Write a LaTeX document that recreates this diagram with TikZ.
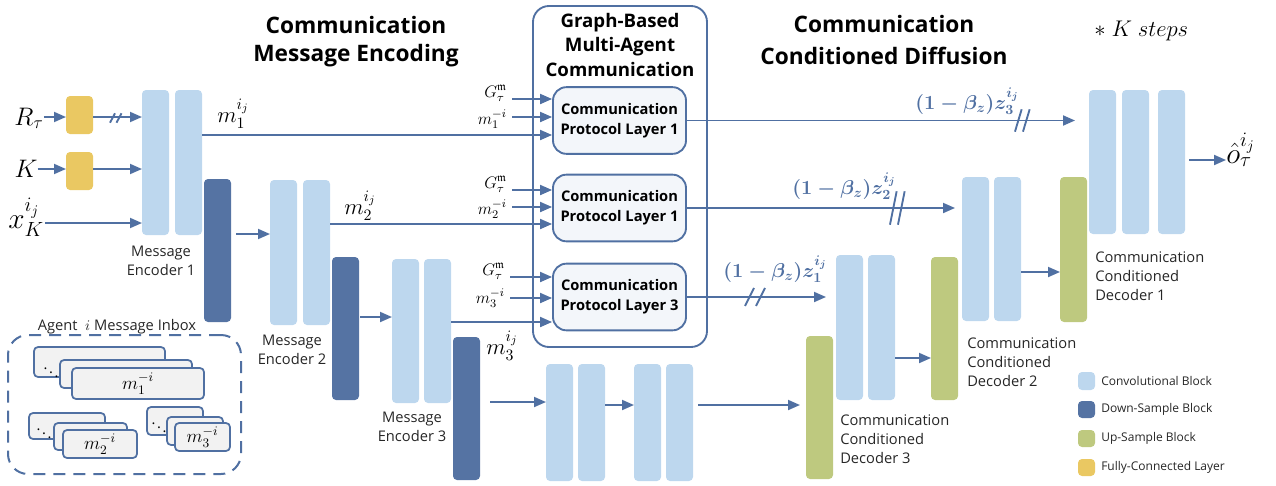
\RequirePackage{fix-cm}
\documentclass[tikz,border=0pt]{standalone}
\usepackage{amsmath,amssymb}
\usepackage[no-math]{fontspec}
\setmainfont{Open Sans}
\usetikzlibrary{arrows.meta,fit}
\definecolor{convblue}{HTML}{BDD7EE}
\definecolor{downblue}{HTML}{5573A3}
\definecolor{upgreen}{HTML}{BEC97F}
\definecolor{fcyellow}{HTML}{EAC862}
\definecolor{lc}{HTML}{5070A2}
\definecolor{cplfill}{HTML}{F3F6FA}
\definecolor{cardgray}{HTML}{F2F2F2}
\definecolor{txt}{HTML}{262626}
\newcommand\blkn[6]{\node[#1, fit={(#3,#4) (#5,#6)}] (#2) {};}
\newcommand\dslash[5]{%
  \draw[slash] ({#1-#4/2},{#2+#3}) -- ({#1+#4/2},{#2-#3});
  \draw[slash] ({#1-#4/2+#5},{#2+#3}) -- ({#1+#4/2+#5},{#2-#3});}
\begin{document}
\begin{tikzpicture}[x=0.75pt,y=-0.75pt,
  blk/.style={inner sep=0pt, outer sep=0pt, rounded corners=3pt},
  conv/.style={blk, fill=convblue},
  down/.style={blk, fill=downblue},
  up/.style={blk, fill=upgreen},
  fc/.style={blk, fill=fcyellow},
  arr/.style={draw=lc, line width=1.4pt, -{Triangle[length=9pt,width=7.5pt]}},
  slash/.style={draw=lc, line width=1.4pt},
  lab/.style={font=\fontsize{11}{14}\selectfont, text=txt, align=center, inner sep=0pt},
  labl/.style={font=\fontsize{11}{14.3}\selectfont, text=txt, align=left, inner sep=0pt, anchor=west},
  title/.style={font=\bfseries\fontsize{17}{21}\selectfont, align=center, inner sep=0pt},
  cpl/.style={draw=lc, line width=1.4pt, fill=cplfill, rounded corners=10pt, inner sep=0pt,
     minimum width=99.75pt, minimum height=50pt, align=center, font=\bfseries\fontsize{11}{15}\selectfont},
  mth/.style={inner sep=0pt, anchor=base west},
  gl/.style={inner sep=0pt, anchor=base east, font=\fontsize{12.5}{14}\selectfont},
  zlab/.style={inner sep=0pt, anchor=base west, text=lc, font=\fontsize{15}{17}\selectfont\mathversion{bold}},
  card/.style={draw=lc, line width=1.3pt, fill=cardgray, rounded corners=3pt, inner sep=0pt},
  leg/.style={font=\fontsize{9}{11}\selectfont, text=txt, anchor=west, inner sep=0pt}
]
\useasboundingbox (0,0) rectangle (1276,485);

% ---- titles
\node[title] (t1) at (356,42) {Communication\\Message Encoding};
\node[title, font=\bfseries\fontsize{17}{24.5}\selectfont] (t2) at (884,40) {Communication\\Conditioned Diffusion};
\node[inner sep=0pt, anchor=base west, font=\fontsize{17}{19}\selectfont] (ksteps) at (1094,37) {$\ast\ K\ steps$};

% ---- graph box
\node[draw=lc, line width=1.4pt, rounded corners=12pt, inner sep=0pt, fit={(533,6) (707,347)}] (gbox) {};
\node[font=\bfseries\fontsize{14}{18}\selectfont, align=center, inner sep=0pt] (gtitle) at (620,45) {Graph-Based\\Multi-Agent\\Communication};
\node[cpl] (cpl1) at (619.5,120.5) {Communication\\Protocol Layer 1};
\node[cpl] (cpl2) at (619.5,208) {Communication\\Protocol Layer 1};
\node[cpl] (cpl3) at (619.5,297) {Communication\\Protocol Layer 3};

% ---- blocks
\blkn{fc}{fc1}{66}{96}{93}{134}
\blkn{fc}{fc2}{66}{152}{93}{190}
\blkn{conv}{e1a}{142}{90}{169}{235}
\blkn{conv}{e1b}{175}{90}{202}{235}
\blkn{down}{e1d}{204}{179}{231}{322}
\blkn{conv}{e2a}{270}{180}{297}{325}
\blkn{conv}{e2b}{303}{180}{330}{325}
\blkn{down}{e2d}{332}{257}{359}{400}
\blkn{conv}{e3a}{392}{259}{419}{403}
\blkn{conv}{e3b}{424}{259}{451}{403}
\blkn{down}{e3d}{453}{337}{480}{480}
\blkn{conv}{ma}{546}{364}{573}{481}
\blkn{conv}{mb}{578}{364}{605}{481}
\blkn{conv}{mc}{634}{364}{661}{481}
\blkn{conv}{md}{666}{364}{693}{481}
\blkn{up}{d3u}{806}{336}{833}{479}
\blkn{conv}{d3a}{836}{255}{863}{400}
\blkn{conv}{d3b}{868}{255}{895}{400}
\blkn{up}{d2u}{931}{257}{958}{400}
\blkn{conv}{d2a}{962}{177}{989}{321}
\blkn{conv}{d2b}{994}{177}{1021}{321}
\blkn{up}{d1u}{1060}{177}{1087}{322}
\blkn{conv}{d1a}{1089}{90}{1116}{234}
\blkn{conv}{d1b}{1122}{90}{1149}{234}
\blkn{conv}{d1c}{1158}{90}{1185}{234}

% ---- block labels
\node[lab] (le1) at (161,261) {Message\\Encoder 1};
\node[lab] (le2) at (292,349.5) {Message\\Encoder 2};
\node[lab] (le3) at (412,427) {Message\\Encoder 3};
\node[labl] (ld3) at (840,439) {Communication\\Conditioned\\Decoder 3};
\node[labl] (ld2) at (967,362) {Communication\\Conditioned\\Decoder 2};
\node[labl] (ld1) at (1095,276) {Communication\\Conditioned\\Decoder 1};

% ---- inputs
\node[inner sep=0pt, anchor=base, font=\fontsize{19}{21}\selectfont] (lR) at (29,125) {$R_\tau$};
\node[inner sep=0pt, anchor=base, font=\fontsize{19}{21}\selectfont] (lK) at (26,177) {$K$};
\node[inner sep=0pt, anchor=base west, font=\fontsize{22}{24}\selectfont] (lx) at (8,228) {$x_K^{i_j}$};
\draw[arr] (lR.east |- 0,117) -- (fc1.west |- 0,117);
\draw[arr] (lK.east |- 0,169) -- (fc2.west |- 0,169);
\draw[arr] (fc1.east |- 0,117) -- (e1a.west |- 0,117);
\dslash{112.5}{118}{4.7}{5}{6.5}
\draw[arr] (fc2.east |- 0,169) -- (e1a.west |- 0,169);
\draw[arr, shorten <=1pt] (lx.east |- 0,223) -- (e1a.west |- 0,223);

% ---- encoder chain
\draw[arr, shorten <=3.75pt] (e1d.east |- 0,234) -- (e2a.west |- 0,234);
\draw[arr, shorten <=1pt] (e2d.east |- 0,317) -- (e3a.west |- 0,317);
\draw[arr, shorten <=7.5pt] (e3d.east |- 0,402) -- (ma.west |- 0,402);
\draw[arr] (mb.east |- 0,405) -- (mc.west |- 0,405);
\draw[arr, shorten <=3.75pt, shorten >=4.5pt] (md.east |- 0,405) -- (d3u.west |- 0,405);
\draw[arr] (d3b.east |- 0,358) -- (d2u.west |- 0,358);
\draw[arr] (d2b.east |- 0,272) -- (d1u.west |- 0,272);
\node[inner sep=0pt, anchor=base west, font=\fontsize{22}{24}\selectfont] (lo) at (1226,163) {$\hat{o}_\tau^{i_j}$};
\draw[arr, shorten <=3pt] (d1c.east |- 0,160) -- (lo.west |- 0,160);

% ---- messages m^{ij}
\node[mth, font=\fontsize{17}{19}\selectfont] (lm1) at (217,122) {$m_1^{i_j}$};
\node[mth, font=\fontsize{17}{19}\selectfont] (lm2) at (344,214) {$m_2^{i_j}$};
\node[mth, font=\fontsize{17}{19}\selectfont] (lm3) at (486,354) {$m_3^{i_j}$};
\draw[arr] (e1b.east |- 0,135) -- (cpl1.west |- 0,135);
\draw[arr] (e2b.east |- 0,224) -- (cpl2.west |- 0,224);
\draw[arr] (e3b.east |- 0,322) -- (cpl3.west |- 0,322);

% ---- graph / inbox inputs
\node[gl] (g1) at (507,97) {$G_\tau^{\mathfrak{m}}$};
\node[gl] (n1) at (507,124) {$m_1^{-i}$};
\node[gl] (g2) at (507,188) {$G_\tau^{\mathfrak{m}}$};
\node[gl] (n2) at (507,214) {$m_2^{-i}$};
\node[gl] (g3) at (505,275) {$G_\tau^{\mathfrak{m}}$};
\node[gl] (n3) at (505,303) {$m_3^{-i}$};
\draw[arr, shorten <=4pt] (g1.east |- 0,99) -- (cpl1.west |- 0,99);
\draw[arr, shorten <=4pt] (n1.east |- 0,117) -- (cpl1.west |- 0,117);
\draw[arr, shorten <=4pt] (g2.east |- 0,190) -- (cpl2.west |- 0,190);
\draw[arr, shorten <=4pt] (n2.east |- 0,207) -- (cpl2.west |- 0,207);
\draw[arr, shorten <=4pt] (g3.east |- 0,277) -- (cpl3.west |- 0,277);
\draw[arr, shorten <=4pt] (n3.east |- 0,298) -- (cpl3.west |- 0,298);

% ---- skip connections z
\draw[arr, shorten >=10.5pt] (cpl1.east) -- (d1a.west |- cpl1.east);
\dslash{1018.3}{120.5}{11.2}{6.7}{8}
\node[zlab] (z3) at (915,109) {$(1-\beta_z)z_3^{i_j}$};
\draw[arr, shorten >=5.25pt] (cpl2.east) -- (d2a.west |- cpl2.east);
\dslash{893.3}{208}{16.7}{6.7}{8}
\node[zlab] (z2) at (792,194) {$(1-\beta_z)z_2^{i_j}$};
\draw[arr, shorten >=7.5pt] (cpl3.east) -- (d3a.west |- cpl3.east);
\dslash{749.5}{297}{9}{9}{11}
\node[zlab] (z1) at (723,277) {$(1-\beta_z)z_1^{i_j}$};

% ---- inbox
\node[inner sep=0pt, font=\fontsize{11}{14}\selectfont, text=txt] (inboxlab) at (117,327) {Agent\ \ $i$ Message Inbox};
\node[draw=lc, line width=1.5pt, dash pattern=on 9pt off 6pt, rounded corners=15pt, inner sep=0pt, fit={(8,335) (241,474)}] (inbox) {};
\node[card, fit={(34,347) (165,377)}] (c1a) {};
\node[inner sep=0pt, font=\fontsize{11}{11}\selectfont] (dt1) at (51,369) {$\ddots$};
\node[card, fit={(60,360) (192,388)}] (c1b) {};
\node[card, fit={(72,368) (204,399)}] (c1c) {};
\node[inner sep=0pt, font=\fontsize{14}{16}\selectfont] (cm1) at (c1c) {$m_1^{-i}$};
\node[card, fit={(29,413) (105,439)}] (c2a) {};
\node[inner sep=0pt, font=\fontsize{11}{11}\selectfont] (dt2) at (44,430) {$\ddots$};
\node[card, fit={(54,423) (127,450)}] (c2b) {};
\node[card, fit={(63,430) (137,458)}] (c2c) {};
\node[inner sep=0pt, font=\fontsize{14}{16}\selectfont] (cm2) at (c2c) {$m_2^{-i}$};
\node[card, fit={(147,407) (203,435)}] (c3a) {};
\node[inner sep=0pt, font=\fontsize{11}{11}\selectfont] (dt3) at (159,424) {$\ddots$};
\node[card, fit={(167,417) (223,445)}] (c3b) {};
\node[card, fit={(175,423) (230,451)}] (c3c) {};
\node[inner sep=0pt, font=\fontsize{14}{16}\selectfont] (cm3) at (c3c) {$m_3^{-i}$};

% ---- legend
\blkn{conv}{lg1}{1078}{372}{1095}{390}
\blkn{down}{lg2}{1078}{401}{1095}{418}
\blkn{up}{lg3}{1078}{430}{1095}{447}
\blkn{fc}{lg4}{1078}{459}{1095}{476}
\node[leg] (lt1) at (1101,381) {Convolutional Block};
\node[leg] (lt2) at (1101,409.5) {Down-Sample Block};
\node[leg] (lt3) at (1101,438.5) {Up-Sample Block};
\node[leg] (lt4) at (1101,467.5) {Fully-Connected Layer};
\end{tikzpicture}
\end{document}
